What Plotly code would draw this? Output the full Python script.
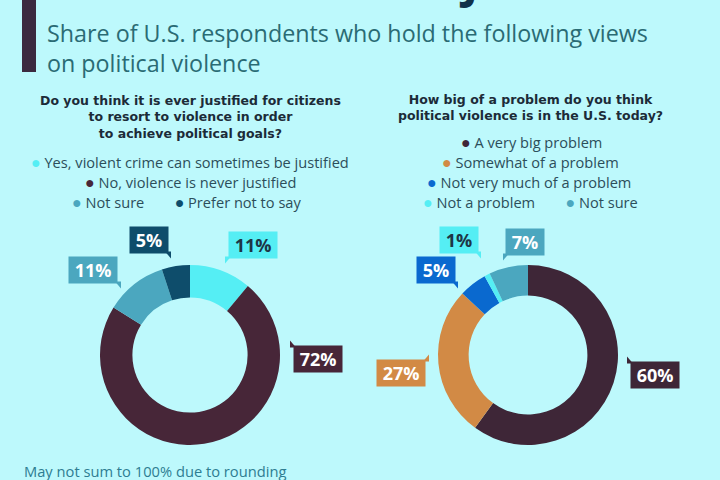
import plotly.graph_objects as go

BG = "#bdf9fc"

# Data
q1_labels = ["Yes, violent crime can sometimes be justified", "No, violence is never justified",
             "Not sure", "Prefer not to say"]
q1_values = [11, 72, 11, 5]
q1_colors = ["#55eef4", "#472638", "#4ba7bf", "#0e4d6b"]
q1_text_colors = ["#1d3545", "white", "white", "white"]

q2_labels = ["A very big problem", "Somewhat of a problem", "Not very much of a problem",
             "Not a problem", "Not sure"]
q2_values = [60, 27, 5, 1, 7]
q2_colors = ["#3e2637", "#d28a45", "#0a69cf", "#55eef4", "#4ba7bf"]
q2_text_colors = ["white", "white", "white", "#1d3545", "white"]

title = "Violence is Never Justified"
subtitle = "Share of U.S. respondents who hold the following views<br>on political violence"
q1_title = "Do you think it is ever justified for citizens<br>to resort to violence in order<br>to achieve political goals?"
q2_title = "How big of a problem do you think<br>political violence is in the U.S. today?"
footer = "May not sum to 100% due to rounding"

W, H = 720, 480
FONT = "Open Sans"

fig = go.Figure()
fig.add_trace(go.Pie(values=q1_values, labels=q1_labels, hole=0.64, sort=False,
                     direction="clockwise", rotation=0, textinfo="none", hoverinfo="label+value",
                     marker=dict(colors=q1_colors, line=dict(width=0)),
                     domain=dict(x=[100/W, 280/W], y=[35/H, 215/H]), showlegend=False))
fig.add_trace(go.Pie(values=q2_values, labels=q2_labels, hole=0.66, sort=False,
                     direction="clockwise", rotation=0, textinfo="none", hoverinfo="label+value",
                     marker=dict(colors=q2_colors, line=dict(width=0)),
                     domain=dict(x=[438/W, 618/W], y=[35/H, 215/H]), showlegend=False))

ann = []
shapes = []
def px(x, y, text, size, color, xanchor="left", yanchor="middle", align="left", family=FONT, **kw):
    ann.append(dict(x=x / W, y=1 - y / H, xref="paper", yref="paper", text=text, showarrow=False,
                    xanchor=xanchor, yanchor=yanchor, align=align,
                    font=dict(family=family, size=size, color=color), **kw))

# accent bar
shapes.append(dict(type="rect", xref="paper", yref="paper", x0=22/W, x1=36/W,
                   y0=1 - 72/H, y1=1.05, fillcolor="#3b2a3f", line=dict(width=0)))

# title (cut off at top, as in the reference)
px(55, 13, f"<b>{title}</b>", 46, "#12324a", yanchor="bottom")
px(45, 48, subtitle, 23.3, "#2a6b74")

def dot(c):
    return f"<span style='color:{c};font-size:16px'>●</span>"
lc = "#2c4e5a"
QF = "DejaVu Sans"

# question 1
px(190, 117, f"<b>{q1_title}</b>", 12.5, "#1c2b38", xanchor="center", align="center", family=QF)
px(190, 162, f"{dot(q1_colors[0])} {q1_labels[0]}", 14.6, lc, xanchor="center")
px(190, 182, f"{dot(q1_colors[1])} {q1_labels[1]}", 14.6, lc, xanchor="center")
px(186, 202, f"{dot(q1_colors[2])} {q1_labels[2]}        {dot(q1_colors[3])} {q1_labels[3]}", 14.6, lc, xanchor="center")

# question 2
px(530, 108, f"<b>{q2_title}</b>", 12.5, "#1c2b38", xanchor="center", align="center", family=QF)
px(531, 142, f"{dot(q2_colors[0])} {q2_labels[0]}", 14.6, lc, xanchor="center")
px(530, 162, f"{dot(q2_colors[1])} {q2_labels[1]}", 14.6, lc, xanchor="center")
px(529, 182, f"{dot(q2_colors[2])} {q2_labels[2]}", 14.6, lc, xanchor="center")
px(530, 202, f"{dot(q2_colors[3])} {q2_labels[3]}        {dot(q2_colors[4])} {q2_labels[4]}", 14.6, lc, xanchor="center")

# value boxes with callout tails
q1_pos = [(253, 245, "bl"), (318, 359, "tl"), (93, 270, "br"), (149, 240, "br")]
q2_pos = [(655, 375, "tl"), (401, 373, "tr"), (436, 270, "br"), (459, 240, "br"), (525, 242, "bl")]
for vals, cols, tcols, pos in [(q1_values, q1_colors, q1_text_colors, q1_pos),
                               (q2_values, q2_colors, q2_text_colors, q2_pos)]:
    for v, c, tc, (x, y, corner) in zip(vals, cols, tcols, pos):
        txt = f"{v}%"
        px(x, y, f"<b> {txt} </b>", 18, tc, xanchor="center", bgcolor=c, borderpad=1)
        hw = 22 if len(txt) == 2 else 28
        hh = 12.5
        xl, xr = x - hw, x + hw
        yt, yb = y - hh, y + hh
        t = 6
        if corner == "bl":
            pts = [(xl, yb - 1), (xl + t, yb - 1), (xl, yb + t)]
        elif corner == "br":
            pts = [(xr, yb - 1), (xr - t, yb - 1), (xr, yb + t)]
        elif corner == "tl":
            pts = [(xl, yt + 1), (xl + t, yt + 1), (xl, yt - t)]
        else:
            pts = [(xr, yt + 1), (xr - t, yt + 1), (xr, yt - t)]
        path = "M " + " L ".join(f"{px_/W:.5f},{1 - py/H:.5f}" for px_, py in pts) + " Z"
        shapes.append(dict(type="path", xref="paper", yref="paper", path=path,
                           fillcolor=c, line=dict(width=0)))

# footer
px(22, 471, footer, 14.7, "#2e7d92")

fig.update_layout(width=W, height=H, margin=dict(l=0, r=0, t=0, b=0),
                  paper_bgcolor=BG, plot_bgcolor=BG, annotations=ann, shapes=shapes)
fig.write_html("out.html")
